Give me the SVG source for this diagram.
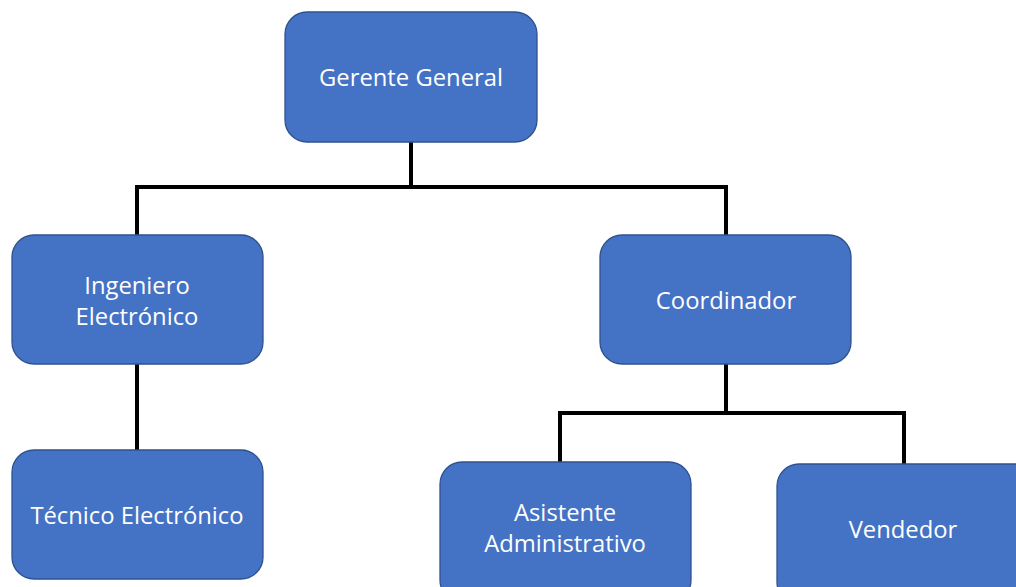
<svg xmlns="http://www.w3.org/2000/svg" width="1016" height="587" viewBox="0 0 1016 587">
<style>
.box{fill:#4472C4;stroke:#2F528F;stroke-width:1.3}
.t{font-family:"Open Sans","Liberation Sans",Arial,sans-serif;font-size:23.8px;fill:#FFFFFF;text-anchor:middle}
.c{fill:none;stroke:#000000;stroke-width:4;stroke-linecap:square;stroke-linejoin:miter}
</style>
<rect width="1016" height="587" fill="#FFFFFF"/>
<g id="connectors">
<path class="c" d="M411 143V187M137 235V187H726V235"/>
<path class="c" d="M137 365V450"/>
<path class="c" d="M726 365V413M560 462V413H904V464"/>
</g>
<g id="gerente"><rect class="box" x="285" y="12" width="252" height="130" rx="22"/><text class="t" x="411" y="86">Gerente General</text></g>
<g id="ingeniero"><rect class="box" x="12" y="235" width="251" height="129" rx="22"/><text class="t" x="137" y="294">Ingeniero</text><text class="t" x="137" y="325">Electrónico</text></g>
<g id="coordinador"><rect class="box" x="600" y="235" width="251" height="129" rx="22"/><text class="t" x="726" y="309">Coordinador</text></g>
<g id="tecnico"><rect class="box" x="12" y="450" width="251" height="129" rx="22"/><text class="t" x="137" y="524">Técnico Electrónico</text></g>
<g id="asistente"><rect class="box" x="440" y="462" width="251" height="140" rx="22"/><text class="t" x="565" y="521">Asistente</text><text class="t" x="565" y="552">Administrativo</text></g>
<g id="vendedor"><rect class="box" x="777" y="464" width="260" height="140" rx="22"/><text class="t" x="903" y="538">Vendedor</text></g>
</svg>
